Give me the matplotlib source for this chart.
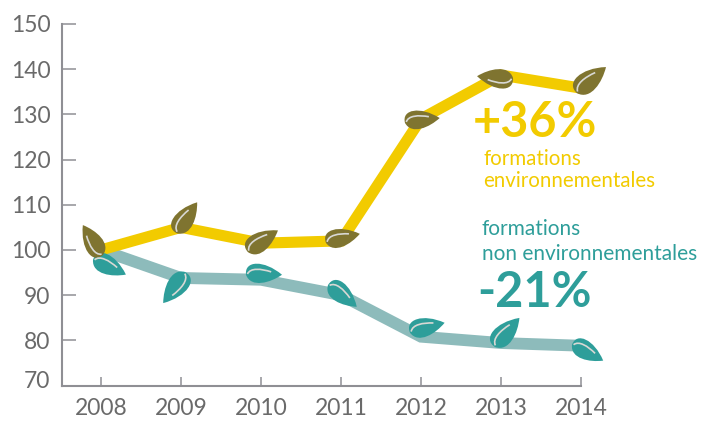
import matplotlib
matplotlib.use('Agg')
import matplotlib.pyplot as plt
from matplotlib.path import Path
from matplotlib.patches import PathPatch
from matplotlib.transforms import Affine2D, ScaledTranslation

years = [2008, 2009, 2010, 2011, 2012, 2013, 2014]
env = [100, 105, 101.5, 102, 129, 138.7, 135.8]
non_env = [100, 93.8, 93.4, 90, 80.8, 79.4, 78.8]
y_ticks = [70, 80, 90, 100, 110, 120, 130, 140, 150]

# leaf angle, length and offset of its base from the data point, in pixels
env_angle = [124, 57, 36, 15, 8, 177, 42]
env_len = [36, 37, 37, 35, 35, 36, 39]
env_dx = [2, -4, -13, -15, -16, 12, -4]
env_dy = [-5, -6, -9, -2, -4, -3, -5]
non_angle = [-24, 235, 0, -37, 16, 50, -27]
non_len = [36, 38, 36, 36, 36, 38, 35]
non_dx = [-8, 4, -15, -13, -11, -6, -9]
non_dy = [-10, 6, 5, 10, 4, -4, 1]

YELLOW = '#f2cb00'
OLIVE = '#7f7430'
TEAL = '#2e9e9a'
PALE_TEAL = '#8dbbbb'
GREY = '#8f8f94'
TEXT = '#6a6a6a'

plt.rcParams['font.family'] = ['Lato', 'DejaVu Sans']

W, H = 710, 421
fig = plt.figure(figsize=(W / 100, H / 100), dpi=100)
ax = fig.add_axes([61.5 / W, (H - 385.5) / H, (581 - 61.5) / W, (385.5 - 24) / H])

LEAF = Path(
    [(0, 0), (-0.05, 0.4), (0.5, 0.42), (1, 0), (0.68, -0.22), (0.14, -0.38), (0, 0)],
    [Path.MOVETO, Path.CURVE4, Path.CURVE4, Path.CURVE4, Path.CURVE4, Path.CURVE4, Path.CURVE4],
)
VEIN = Path(
    [(0.04, 0.02), (0.12, 0.2), (0.42, 0.17), (0.7, 0.08)],
    [Path.MOVETO, Path.CURVE4, Path.CURVE4, Path.CURVE4],
)


def draw_leaves(xs, ys, angles, lengths, dxs, dys, color):
    for x, y, a, n, dx, dy in zip(xs, ys, angles, lengths, dxs, dys):
        tr = (Affine2D().scale(n).rotate_deg(a).translate(dx, dy)
              + ScaledTranslation(x, y, ax.transData))
        ax.add_patch(PathPatch(LEAF, fc=color, ec='none', transform=tr, zorder=5, clip_on=False))
        ax.add_patch(PathPatch(VEIN, fc='none', ec='#d8d8d4', lw=1.2, transform=tr, zorder=6, clip_on=False))


ax.plot(years, non_env, color=PALE_TEAL, lw=8.5, solid_joinstyle='miter', solid_capstyle='butt', zorder=2)
ax.plot(years, env, color=YELLOW, lw=8, solid_joinstyle='miter', solid_capstyle='butt', zorder=3)
draw_leaves(years, non_env, non_angle, non_len, non_dx, non_dy, TEAL)
draw_leaves(years, env, env_angle, env_len, env_dx, env_dy, OLIVE)

ax.set_xlim(2008 - 39.5 / 80, 2014)
ax.set_ylim(70, 150)
ax.set_xticks(years)
ax.set_yticks(y_ticks)
ax.spines[['top', 'right']].set_visible(False)
ax.spines[['left', 'bottom']].set_color(GREY)
ax.spines[['left', 'bottom']].set_linewidth(1.5)
ax.tick_params(axis='y', direction='in', length=10, width=1.1, color=GREY,
               labelcolor=TEXT, labelsize=16.5, pad=8)
ax.tick_params(axis='x', direction='in', length=6.5, width=1.1, color=GREY,
               labelcolor=TEXT, labelsize=16.5, pad=9)

# the 70 label sits a little above its tick
lab = ax.get_yticklabels()[0]
lab.set_transform(lab.get_transform() + Affine2D().translate(0, 6))


def label(px, py, s, color, size, weight='normal'):
    fig.text(px / W, (H - py) / H, s, color=color, fontsize=size, fontweight=weight,
             ha='left', va='baseline')


label(473, 137, '+36%', YELLOW, 35, 'bold')
label(483, 165, 'formations', YELLOW, 14.8)
label(483, 187, 'environnementales', YELLOW, 14.8)
label(482, 235, 'formations', TEAL, 15)
label(482, 260, 'non environnementales', TEAL, 15)
label(477, 307, '-21%', TEAL, 35, 'bold')

fig.savefig('out.png', dpi=100)
